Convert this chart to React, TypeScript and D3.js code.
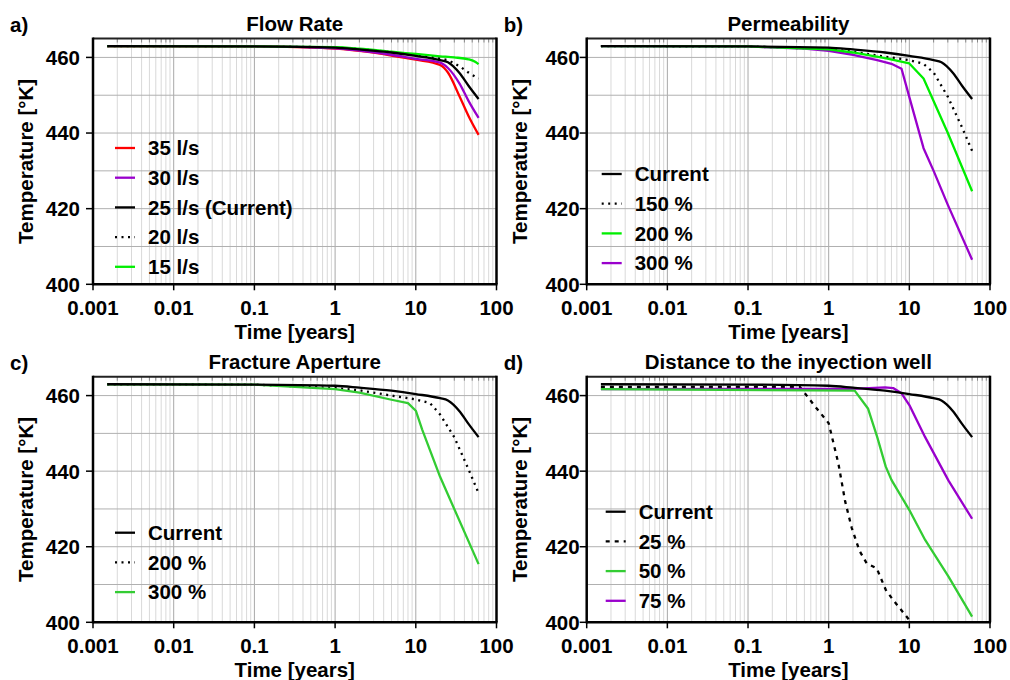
import * as d3 from 'd3'

const W = 1010, H = 680
const FONT = "'Liberation Sans', Arial, Helvetica, sans-serif"

// ---- data (time in years, temperature in K) ----
// a) Flow rate
const tFlow = [0.0015, 0.1, 1, 2, 5, 10, 20, 25, 35, 45, 60]
const temp35 = [463, 462.9, 462.3, 461.7, 460.5, 459.4, 458, 456, 449.6, 444.5, 439.5]
const temp30 = [463, 462.9, 462.4, 461.8, 460.7, 459.6, 458.6, 457.2, 453, 448.5, 444]
const tempCurrent = [463, 462.9, 462.6, 462.1, 461.3, 460.4, 459.3, 458.7, 455.8, 452.5, 449]
const temp20 = [463, 462.9, 462.6, 462.2, 461.4, 460.6, 459.7, 459.2, 457.6, 456, 454.4]
const t15 = [0.0015, 0.1, 1, 2, 5, 10, 20, 30, 45, 55, 60]
const temp15 = [463, 462.9, 462.7, 462.3, 461.5, 460.9, 460.3, 460, 459.5, 458.8, 458.2]

// b) Permeability
const tPerm150 = [0.0015, 0.1, 1, 2, 5, 10, 15, 20, 30, 45, 60]
const tempPerm150 = [463, 462.9, 462.2, 461.5, 460.2, 459.3, 458.3, 456, 449.6, 441.5, 435.3]
const tPerm200 = [0.0015, 0.1, 1, 2, 5, 10, 15, 30, 60]
const tempPerm200 = [463, 462.9, 462.1, 461.3, 459.8, 458.4, 454.4, 440, 424.6]
const tPerm300 = [0.0015, 0.1, 0.5, 1, 2, 4, 6, 8, 10, 15, 20, 30, 60]
const tempPerm300 = [463, 462.9, 462.3, 461.7, 460.7, 459.3, 458.3, 457, 449.5, 436, 430, 421, 406.5]

// c) Fracture aperture
const tAp200 = [0.0015, 0.1, 1, 2, 5, 10, 15, 20, 30, 45, 60]
const tempAp200 = [463, 462.9, 462, 461.4, 460, 459, 458, 455, 449, 440.5, 434.2]
const tAp300 = [0.0015, 0.1, 1, 2, 5, 8, 10, 12, 20, 60]
const tempAp300 = [463, 462.9, 461.7, 460.8, 458.9, 458, 456, 451, 438.5, 415.4]

// d) Distance to the injection well
const tDist25 = [0.0015, 0.44, 0.68, 1, 1.32, 1.6, 1.93, 2.4, 2.96, 3.94, 5.1, 6.3, 10, 11]
const tempDist25 = [462.3, 462.3, 457.1, 452.7, 442, 432, 425, 419, 415.6, 414.3, 408.6, 405.9, 400.6, 399]
const tDist50 = [0.0015, 2.1, 3.07, 4, 5.1, 6, 10, 15.7, 30.6, 60]
const tempDist50 = [461.7, 461.3, 456.6, 449, 441.2, 437.7, 429.7, 421.8, 412.1, 401.5]
const tDist75 = [0.0015, 2, 5, 6.3, 8, 10, 15.7, 30.6, 60]
const tempDist75 = [461.7, 461.8, 462.2, 462, 460.6, 457.5, 449, 437.5, 427.4]

const xTicks = [0.001, 0.01, 0.1, 1, 10, 100]
const yTicks = [400, 420, 440, 460]
const yGrid = [400, 410, 420, 430, 440, 450, 460]

type Series = { label: string, t: number[], v: number[], color: string, dash?: string, smooth?: boolean }

const RED = '#ff0000', PURPLE = '#9900cc', LIME = '#00ee00', GREEN = '#33cc33'

const zip = (t: number[], v: number[]) => t.map((d, i) => [d, v[i]] as [number, number])

const panels = [
  {
    tag: 'a)', title: 'Flow Rate', left: 93, right: 496.5, top: 38.5, bottom: 284.3, labGap: 13,
    legend: { dx: 22, dy: 109.5 },
    series: [
      { label: '35 l/s', t: tFlow, v: temp35, color: RED, smooth: true },
      { label: '30 l/s', t: tFlow, v: temp30, color: PURPLE, smooth: true },
      { label: '25 l/s (Current)', t: tFlow, v: tempCurrent, color: '#000', smooth: true },
      { label: '20 l/s', t: tFlow, v: temp20, color: '#000', dash: '2,4.5', smooth: true },
      { label: '15 l/s', t: t15, v: temp15, color: LIME, smooth: true },
    ] as Series[],
    order: [3, 0, 1, 4, 2],
  },
  {
    tag: 'b)', title: 'Permeability', left: 586.7, right: 990, top: 38.5, bottom: 284.3, labGap: 7,
    legend: { dx: 15, dy: 135.5 },
    series: [
      { label: 'Current', t: tFlow, v: tempCurrent, color: '#000', smooth: true },
      { label: '150 %', t: tPerm150, v: tempPerm150, color: '#000', dash: '2,4.5' },
      { label: '200 %', t: tPerm200, v: tempPerm200, color: LIME },
      { label: '300 %', t: tPerm300, v: tempPerm300, color: PURPLE },
    ] as Series[],
    order: [1, 3, 2, 0],
  },
  {
    tag: 'c)', title: 'Fracture Aperture', left: 93, right: 496.5, top: 376.7, bottom: 622.3, labGap: 13,
    legend: { dx: 22, dy: 156 },
    series: [
      { label: 'Current', t: tFlow, v: tempCurrent, color: '#000', smooth: true },
      { label: '200 %', t: tAp200, v: tempAp200, color: '#000', dash: '2,4.5' },
      { label: '300 %', t: tAp300, v: tempAp300, color: GREEN },
    ] as Series[],
    order: [1, 2, 0],
  },
  {
    tag: 'd)', title: 'Distance to the inyection well', left: 586.7, right: 990, top: 376.7, bottom: 622.3, labGap: 7,
    legend: { dx: 19, dy: 135 },
    series: [
      { label: 'Current', t: tFlow, v: tempCurrent, color: '#000', smooth: true },
      { label: '25 %', t: tDist25, v: tempDist25, color: '#000', dash: '4,5' },
      { label: '50 %', t: tDist50, v: tempDist50, color: GREEN },
      { label: '75 %', t: tDist75, v: tempDist75, color: PURPLE },
    ] as Series[],
    order: [1, 3, 2, 0],
  },
]

const minorTicks: number[] = []
for (let e = -3; e < 2; e++) for (let k = 2; k <= 9; k++) minorTicks.push(k * Math.pow(10, e))

function Panel({ p, idx }: { p: typeof panels[number], idx: number }) {
  const x = d3.scaleLog().domain([0.001, 100]).range([p.left, p.right])
  const y = d3.scaleLinear().domain([400, 465]).range([p.bottom, p.top])
  const straight = d3.line<[number, number]>().x(d => x(d[0])).y(d => y(d[1]))
  const smooth = d3.line<[number, number]>().x(d => x(d[0])).y(d => y(d[1])).curve(d3.curveMonotoneX)
  const cx = (p.left + p.right) / 2
  const clipId = `clip${idx}`
  return (
    <g fontFamily={FONT} fontWeight="bold" fill="#000">
      <defs>
        <clipPath id={clipId}>
          <rect x={p.left} y={p.top} width={p.right - p.left} height={p.bottom - p.top} />
        </clipPath>
      </defs>
      {/* grid */}
      {minorTicks.map(t => (
        <line key={'m' + t} x1={x(t)} x2={x(t)} y1={p.top} y2={p.bottom} stroke="#d9d9d9" strokeWidth={1} />
      ))}
      {xTicks.slice(1, -1).map(t => (
        <line key={'M' + t} x1={x(t)} x2={x(t)} y1={p.top} y2={p.bottom} stroke="#a8a8a8" strokeWidth={1} />
      ))}
      {yGrid.slice(1).map(v => (
        <line key={'h' + v} x1={p.left} x2={p.right} y1={y(v)} y2={y(v)} stroke="#b0b0b0" strokeWidth={1} />
      ))}
      {/* inward minor ticks on top */}
      {minorTicks.map(t => (
        <line key={'tt' + t} x1={x(t)} x2={x(t)} y1={p.top} y2={p.top + 4} stroke="#888" strokeWidth={1} />
      ))}
      {/* series */}
      <g clipPath={`url(#${clipId})`}>
        {p.order.map(i => {
          const s = p.series[i]
          const gen = s.smooth ? smooth : straight
          return (
            <path key={i} d={gen(zip(s.t, s.v)) || ''} fill="none" stroke={s.color} strokeWidth={2.3}
              strokeDasharray={s.dash} strokeLinejoin="round" />
          )
        })}
      </g>
      {/* frame */}
      <line x1={p.left} x2={p.right} y1={p.top} y2={p.top} stroke="#222" strokeWidth={2} />
      <line x1={p.right} x2={p.right} y1={p.top - 1} y2={p.bottom} stroke="#000" strokeWidth={2.5} />
      <line x1={p.left} x2={p.left} y1={p.top - 1} y2={p.bottom + 1} stroke="#000" strokeWidth={2.5} />
      <line x1={p.left} x2={p.right + 1} y1={p.bottom} y2={p.bottom} stroke="#000" strokeWidth={2.5} />
      {/* y axis */}
      {yTicks.map(v => (
        <g key={'y' + v}>
          <line x1={p.left - 7} x2={p.left} y1={y(v)} y2={y(v)} stroke="#000" strokeWidth={1.5} />
          <text x={p.left - p.labGap} y={y(v)} dy="0.36em" textAnchor="end" fontSize={20.5}>{v}</text>
        </g>
      ))}
      {/* x axis */}
      {xTicks.map(t => (
        <g key={'x' + t}>
          <line x1={x(t)} x2={x(t)} y1={p.bottom} y2={p.bottom + 6} stroke="#000" strokeWidth={1.5} />
          <text x={x(t)} y={p.bottom + 31} textAnchor="middle" fontSize={20.5}>{d3.format('~g')(t)}</text>
        </g>
      ))}
      <text x={cx} y={p.bottom + 55} textAnchor="middle" fontSize={20.5}>Time [years]</text>
      <text transform={`translate(${p.left - 60},${(p.top + p.bottom) / 2}) rotate(-90)`} textAnchor="middle" fontSize={20.5}>
        Temperature [°K]
      </text>
      <text x={cx} y={p.top - 8} textAnchor="middle" fontSize={20.5}>{p.title}</text>
      <text x={p.left - 83} y={p.top - 7} fontSize={20.5}>{p.tag}</text>
      {/* legend */}
      {p.series.map((s, i) => {
        const ly = p.top + p.legend.dy + i * 29.7
        const lx = p.left + p.legend.dx
        return (
          <g key={'l' + i}>
            <line x1={lx} x2={lx + 20} y1={ly} y2={ly} stroke={s.color} strokeWidth={2.3}
              strokeDasharray={s.dash} />
            <text x={lx + 33} y={ly} dy="0.36em" fontSize={20.5}>{s.label}</text>
          </g>
        )
      })}
    </g>
  )
}

export default function App() {
  return (
    <svg width={W} height={H} style={{ position: 'absolute', left: 0, top: 0, background: '#fff' }}>
      <rect width={W} height={H} fill="#fff" />
      {panels.map((p, i) => <Panel key={i} p={p} idx={i} />)}
    </svg>
  )
}
